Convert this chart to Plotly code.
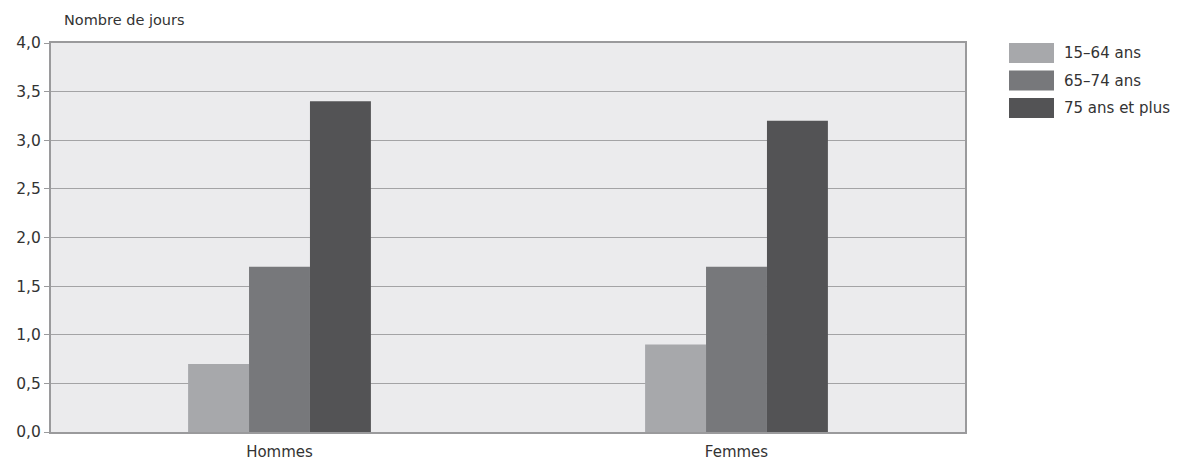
import plotly.graph_objects as go

categories = ["Hommes", "Femmes"]
series_names = ["15–64 ans", "65–74 ans", "75 ans et plus"]
values_15_64 = [0.7, 0.9]
values_65_74 = [1.7, 1.7]
values_75_plus = [3.4, 3.2]
colors = ["#a7a8ab", "#77787b", "#535355"]

series_values = [values_15_64, values_65_74, values_75_plus]

W, H = 1178, 461
L, R, T, B = 51, 213, 43, 29
FONT = "DejaVu Sans"

fig = go.Figure()
for name, vals, col in zip(series_names, series_values, colors):
    fig.add_trace(go.Bar(x=categories, y=vals, name=name, marker_color=col,
                         marker_line_width=0, showlegend=False))

fig.update_layout(
    width=W, height=H,
    margin=dict(l=L, r=R, t=T, b=B, autoexpand=False),
    barmode="group", bargap=0.6, bargroupgap=0,
    plot_bgcolor="#ebebed", paper_bgcolor="white",
    separators=", ",
    font=dict(family=FONT, size=14, color="#333333"),
)
fig.update_yaxes(range=[0, 4], dtick=0.5, tickformat=".1f", automargin=False,
                 showgrid=True, gridcolor="#a3a3a5", gridwidth=1.3,
                 showline=True, linecolor="#9a9a9c", linewidth=2, mirror=True,
                 ticks="outside", ticklen=5, tickcolor="#9a9a9c",
                 zeroline=False, tickfont=dict(size=15.5))
fig.update_xaxes(showline=True, linecolor="#9a9a9c", linewidth=2, mirror=True,
                 automargin=False, ticks="", ticklabelstandoff=5,
                 tickfont=dict(size=15))

plot_w = W - L - R
plot_h = H - T - B

def px_to_paper(px, py):
    return (px - L) / plot_w, (H - B - py) / plot_h

tx, ty = px_to_paper(62, 20)
fig.add_annotation(text="Nombre de jours", xref="paper", yref="paper",
                   x=tx, y=ty, xanchor="left", yanchor="middle", showarrow=False,
                   font=dict(size=14.5))

# manual legend
for i, (name, col) in enumerate(zip(series_names, colors)):
    top = 43 + i * 27.5
    x0, y0 = px_to_paper(1009, top)
    x1, y1 = px_to_paper(1054, top + 20)
    fig.add_shape(type="rect", xref="paper", yref="paper",
                  x0=x0, x1=x1, y0=y1, y1=y0, fillcolor=col, line_width=0)
    lx, ly = px_to_paper(1062, top + 10)
    fig.add_annotation(text=name, xref="paper", yref="paper", x=lx, y=ly,
                       xanchor="left", yanchor="middle", showarrow=False,
                       font=dict(size=15))

fig.write_html("out.html", config={"displayModeBar": False},
               post_script="document.body.style.margin='0';")
